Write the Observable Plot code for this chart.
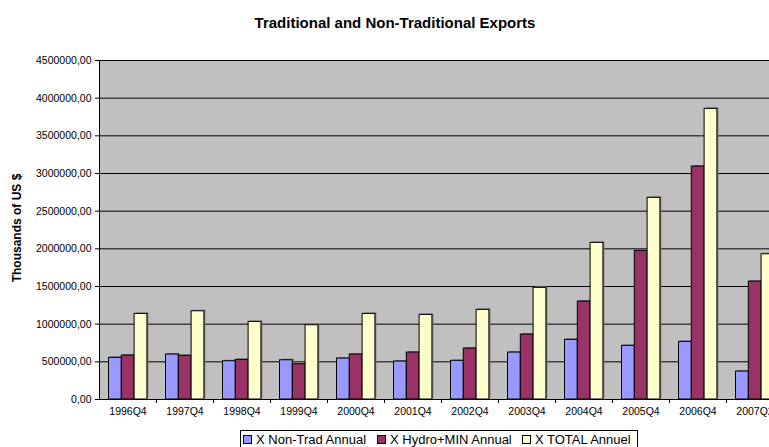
<!DOCTYPE html>
<html>
<head>
<meta charset="utf-8">
<script src="https://cdn.jsdelivr.net/npm/d3@7"></script>
<script src="https://cdn.jsdelivr.net/npm/@observablehq/plot@0.6"></script>
<style>
  body { margin: 0; background: #fff; font-family: "Liberation Sans", Arial, sans-serif; }
  #wrap { position: relative; width: 769px; height: 447px; overflow: hidden; background: #fff; }
  #title { position: absolute; left: 0; width: 790px; top: 14px; text-align: center; font-weight: bold; font-size: 15px; line-height: 18px; color: #000; }
  #chart { position: absolute; left: 0; top: 0; width: 790px; }
  #chart svg { max-width: none !important; }
  #ylab { position: absolute; left: 17px; top: 228px; transform: translate(-50%, -50%) rotate(-90deg); font-weight: bold; font-size: 12px; white-space: nowrap; color: #000; }
  #legend { position: absolute; left: 240px; top: 430px; width: 398px; height: 17px; border: 1px solid #000; border-bottom: none; box-sizing: border-box; font-size: 13px; line-height: 15px; color: #000; background: #fff; }
  .item { position: absolute; top: 0; display: flex; align-items: center; height: 16px; white-space: nowrap; }
  .sw { width: 7px; height: 7px; border: 1px solid #000; margin-right: 4px; }
</style>
</head>
<body>
<div id="wrap">
  <div id="chart"></div>
  <div id="title"></div>
  <div id="ylab"></div>
  <div id="legend"></div>
</div>
<script>
const chartTitle = "Traditional and Non-Traditional Exports";
const yTitle = "Thousands of US $";
const categories = ["1996Q4","1997Q4","1998Q4","1999Q4","2000Q4","2001Q4","2002Q4","2003Q4","2004Q4","2005Q4","2006Q4","2007Q2"];
const seriesNames = ["X Non-Trad Annual", "X Hydro+MIN Annual", "X TOTAL Annuel"];
const seriesColors = ["#9999FF", "#993366", "#FFFFCC"];
const nonTrad  = [553000, 597000, 508000, 521000, 544000, 504000, 513000, 623000, 792000, 712000, 765000, 371000];
const hydroMin = [583000, 580000, 526000, 468000, 597000, 623000, 676000, 862000, 1300000, 1973000, 3092000, 1565000];
const total    = [1136000, 1171000, 1030000, 986000, 1136000, 1123000, 1190000, 1482000, 2079000, 2677000, 3858000, 1928000];
const yTicks = [0, 500000, 1000000, 1500000, 2000000, 2500000, 3000000, 3500000, 4000000, 4500000];

const seriesValues = [nonTrad, hydroMin, total];
const rows = [];
categories.forEach((c, i) => {
  seriesValues.forEach((vals, s) => rows.push({category: c, series: s, value: vals[i]}));
});

const W = 790, H = 447, mL = 99, mR = 7, mT = 60, mB = 48;
const bw = (W - mL - mR) / categories.length;
const off = 9.5, barW = 12.8;

const barMarks = seriesNames.map((name, s) =>
  Plot.barY(rows.filter(d => d.series === s), {
    x: "category", y: "value",
    fill: seriesColors[s], stroke: "#000", strokeWidth: 1,
    insetLeft: off + s * barW,
    insetRight: bw - (off + (s + 1) * barW)
  })
);
const shadowMarks = seriesNames.map((name, s) =>
  Plot.barY(rows.filter(d => d.series === s), {
    x: "category", y: "value",
    fill: "#7a7a7a", dx: 1.5, dy: -1,
    insetLeft: off + s * barW,
    insetRight: bw - (off + (s + 1) * barW)
  })
);

const fmt = d => d.toFixed(2).replace(".", ",");

const plot = Plot.plot({
  width: W, height: H,
  marginLeft: mL, marginRight: mR, marginTop: mT, marginBottom: mB,
  style: {fontFamily: "Liberation Sans, Arial, sans-serif", fontSize: "10.5px", color: "#000", background: "transparent", maxWidth: "none"},
  x: {type: "band", domain: categories, padding: 0, axis: null},
  y: {domain: [0, 4500000], axis: null},
  marks: [
    Plot.frame({fill: "#C0C0C0", stroke: null}),
    Plot.ruleY(yTicks, {stroke: "#000", strokeWidth: 1}),
    ...shadowMarks,
    ...barMarks,
    Plot.frame({anchor: "left", stroke: "#000"}),
    Plot.axisY({ticks: yTicks, tickFormat: fmt, tickSize: 4, tickPadding: 4, label: null}),
    Plot.axisX({tickSize: 0, tickPadding: 8, label: null}),
    Plot.axisX({tickSize: 4, tickFormat: () => "", dx: bw / 2, label: null})
  ]
});
plot.style.maxWidth = "none";
plot.setAttribute("width", W);
document.getElementById("chart").appendChild(plot);

document.getElementById("title").textContent = chartTitle;
document.getElementById("ylab").textContent = yTitle;

const legendX = [2, 136, 281];
const legend = document.getElementById("legend");
seriesNames.forEach((name, s) => {
  const it = document.createElement("div");
  it.className = "item";
  it.style.left = legendX[s] + "px";
  const sw = document.createElement("div");
  sw.className = "sw";
  sw.style.background = seriesColors[s];
  const tx = document.createElement("span");
  tx.textContent = name;
  it.appendChild(sw); it.appendChild(tx);
  legend.appendChild(it);
});
</script>
</body>
</html>
